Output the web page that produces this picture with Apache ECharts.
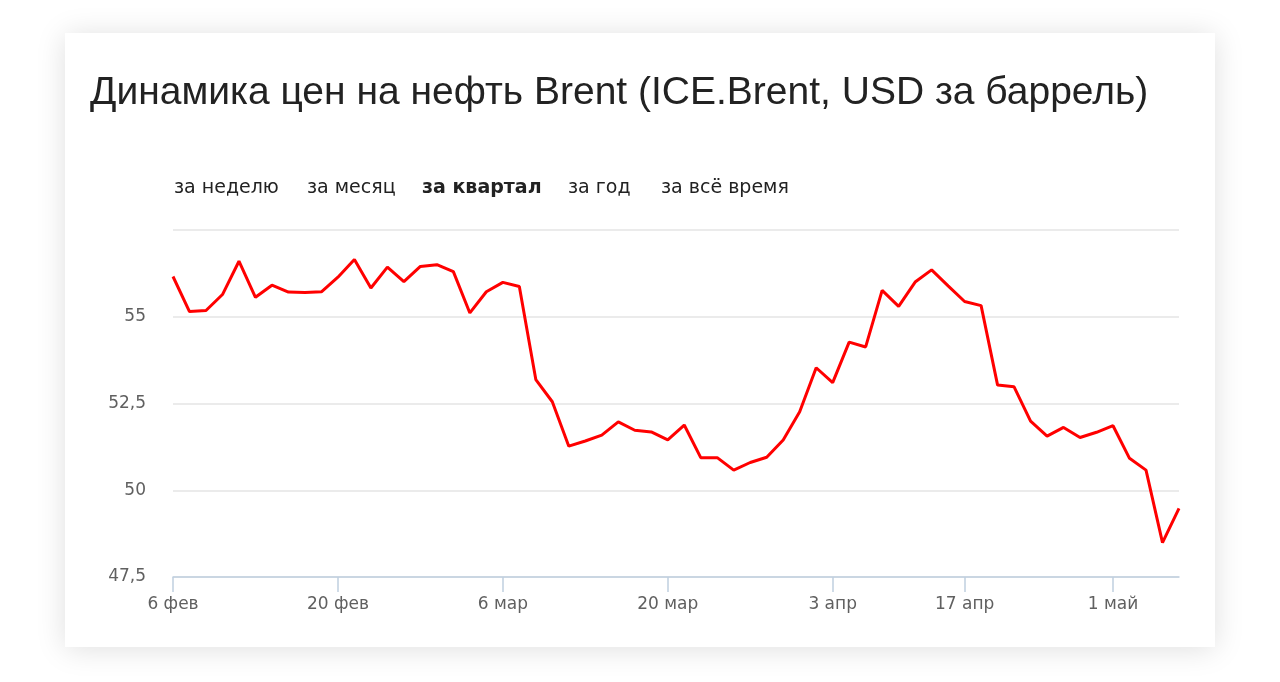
<!DOCTYPE html>
<html>
<head>
<meta charset="utf-8">
<script src="https://cdn.jsdelivr.net/npm/echarts@6/dist/echarts.min.js"></script>
<style>
html,body{margin:0;padding:0;background:#fff;}
#chart{width:1280px;height:682px;}
</style>
</head>
<body>
<div id="chart"></div>
<script>
// Trading days shown (category axis)
const dates = [
  '2017-02-06','2017-02-07','2017-02-08','2017-02-09','2017-02-10',
  '2017-02-13','2017-02-14','2017-02-15','2017-02-16','2017-02-17',
  '2017-02-20','2017-02-21','2017-02-22','2017-02-23','2017-02-24',
  '2017-02-27','2017-02-28','2017-03-01','2017-03-02','2017-03-03',
  '2017-03-06','2017-03-07','2017-03-08','2017-03-09','2017-03-10',
  '2017-03-13','2017-03-14','2017-03-15','2017-03-16','2017-03-17',
  '2017-03-20','2017-03-21','2017-03-22','2017-03-23','2017-03-24',
  '2017-03-27','2017-03-28','2017-03-29','2017-03-30','2017-03-31',
  '2017-04-03','2017-04-04','2017-04-05','2017-04-06','2017-04-07',
  '2017-04-10','2017-04-11','2017-04-12','2017-04-13',
  '2017-04-18','2017-04-19','2017-04-20','2017-04-21',
  '2017-04-24','2017-04-25','2017-04-26','2017-04-27','2017-04-28',
  '2017-05-02','2017-05-03','2017-05-04','2017-05-05'
];
// Brent price, USD per barrel
const prices = [
  56.16,55.15,55.18,55.64,56.60,
  55.56,55.91,55.71,55.70,55.72,
  56.14,56.65,55.83,56.43,56.01,
  56.45,56.50,56.30,55.11,55.72,
  55.99,55.87,53.19,52.55,51.27,
  51.42,51.59,51.97,51.73,51.68,
  51.45,51.88,50.94,50.94,50.58,
  50.80,50.95,51.45,52.26,53.53,
  53.10,54.27,54.13,55.76,55.30,
  56.00,56.35,55.89,55.44,
  55.32,53.03,52.98,51.99,
  51.56,51.81,51.52,51.67,51.86,
  50.92,50.58,48.49,49.48
];
// X tick labels and the category index where the reference places them
const xTickLabels = ['6 фев','20 фев','6 мар','20 мар','3 апр','17 апр','1 май'];
const xTickIndex  = [0, 10, 20, 30, 40, 48, 57];
// Y axis
const yMin = 47.5, yMax = 57.5, yStep = 2.5;
const title = 'Динамика цен на нефть Brent (ICE.Brent, USD за баррель)';
const tabs = ['за неделю','за месяц','за квартал','за год','за всё время'];
const activeTab = 'за квартал';

const tabX = [174, 307, 422, 568, 661];
const uiFont = "'DejaVu Sans',Verdana,sans-serif";

const chart = echarts.init(document.getElementById('chart'), null, {renderer:'canvas'});

const graphics = [
  {type:'rect', z:-10, shape:{x:65,y:33,width:1150,height:614},
   style:{fill:'#fff', shadowBlur:28, shadowColor:'rgba(0,0,0,0.13)', shadowOffsetY:2}},
  {type:'text', left:90, top:74, style:{text:title, fill:'#222',
   font:"39px 'Liberation Sans',Arial,sans-serif"}}
];
tabs.forEach((t,i)=>{
  graphics.push({type:'text', left:tabX[i], top:179, style:{text:t, fill:'#222',
    font:(t===activeTab?'bold ':'')+"19px "+uiFont}});
});

chart.setOption({
  animation:false,
  grid:{left:173, right:101, top:230, bottom:105, containLabel:false},
  graphic:graphics,
  xAxis:{
    type:'category', data:dates, boundaryGap:false,
    axisLine:{lineStyle:{color:'#c0d0e0', width:1.5}},
    axisTick:{show:true, length:15, lineStyle:{color:'#c0d0e0', width:1.5},
      interval:(i)=>xTickIndex.includes(i)},
    axisLabel:{interval:(i)=>xTickIndex.includes(i), margin:19,
      color:'#606060', fontSize:17, fontFamily:uiFont,
      formatter:(v,i)=>{const k=xTickIndex.indexOf(i);return k>=0?xTickLabels[k]:'';}},
    splitLine:{show:false}
  },
  yAxis:{
    type:'value', min:yMin, max:yMax, interval:yStep,
    axisLine:{show:false}, axisTick:{show:false},
    splitLine:{lineStyle:{color:'#e4e4e4', width:1.5}},
    axisLabel:{margin:27, color:'#606060', fontSize:17, fontFamily:uiFont,
      padding:[5,0,0,0],
      formatter:(v)=> v>=yMax ? '' : String(v).replace('.',',')}
  },
  series:[{
    type:'line', data:prices, symbol:'none', smooth:false,
    lineStyle:{color:'#ff0000', width:3}, z:5
  }]
});
</script>
</body>
</html>
